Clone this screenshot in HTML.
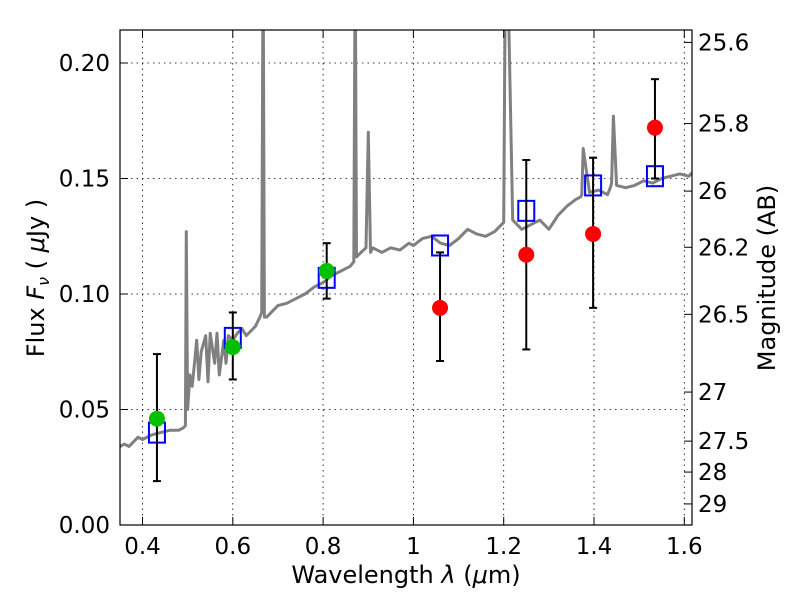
<!DOCTYPE html>
<html><head><meta charset="utf-8"><style>
body{margin:0;background:#fff;}
svg text{font-family:"DejaVu Sans","Liberation Sans",sans-serif;}
</style></head><body>
<svg id="chart" width="800" height="600" viewBox="0 0 800 600" xmlns="http://www.w3.org/2000/svg">
<defs><clipPath id="pc"><rect x="120" y="30" width="572" height="495"/></clipPath></defs>
<rect x="0" y="0" width="800" height="600" fill="#fff"/>
<g id="grid"></g>
<g id="spec" clip-path="url(#pc)"></g>
<g id="marks"></g>
<rect x="120" y="30" width="572" height="495" fill="none" stroke="#000" stroke-width="1.2"/>
<g id="axes"></g>
<text x="406" y="583" font-size="24" text-anchor="middle">Wavelength  <tspan font-style="italic">λ</tspan> (<tspan font-style="italic">μ</tspan>m)</text>
<text transform="translate(44,278) rotate(-90)" font-size="24" text-anchor="middle">Flux  <tspan font-style="italic">F</tspan><tspan font-style="italic" font-size="16" dy="5">ν</tspan><tspan dy="-5">  (  </tspan><tspan font-style="italic">μ</tspan>Jy )</text>
<text transform="translate(775,278) rotate(-90)" font-size="24" text-anchor="middle">Magnitude (AB)</text>
</svg>
<script>
const specWave=[0.35,0.36,0.37,0.38,0.39,0.40,0.42,0.44,0.46,0.48,0.49,0.495,0.497,0.50,0.505,0.51,0.52,0.525,0.53,0.54,0.545,0.55,0.56,0.565,0.57,0.58,0.585,0.59,0.60,0.61,0.62,0.63,0.64,0.65,0.66,0.664,0.667,0.670,0.675,0.69,0.70,0.72,0.74,0.76,0.78,0.80,0.82,0.84,0.86,0.868,0.871,0.874,0.884,0.895,0.90,0.905,0.91,0.93,0.95,0.97,0.99,1.0,1.02,1.04,1.06,1.08,1.10,1.12,1.14,1.16,1.18,1.195,1.200,1.204,1.208,1.22,1.24,1.26,1.28,1.30,1.32,1.34,1.36,1.37,1.373,1.376,1.39,1.41,1.43,1.436,1.439,1.443,1.45,1.47,1.49,1.51,1.53,1.55,1.57,1.59,1.61,1.625];
const specFlux=[0.034,0.035,0.034,0.036,0.038,0.037,0.039,0.040,0.041,0.041,0.042,0.043,0.127,0.050,0.065,0.060,0.080,0.063,0.075,0.082,0.062,0.083,0.070,0.083,0.065,0.080,0.070,0.082,0.080,0.083,0.085,0.082,0.084,0.086,0.090,0.092,0.25,0.09,0.090,0.093,0.095,0.096,0.098,0.100,0.103,0.105,0.108,0.110,0.112,0.114,0.25,0.116,0.118,0.120,0.17,0.118,0.120,0.118,0.120,0.119,0.122,0.121,0.124,0.125,0.122,0.121,0.124,0.128,0.126,0.125,0.127,0.130,0.131,0.25,0.25,0.132,0.128,0.130,0.132,0.128,0.134,0.138,0.141,0.142,0.143,0.163,0.144,0.145,0.143,0.146,0.148,0.177,0.147,0.146,0.147,0.149,0.148,0.150,0.151,0.152,0.151,0.154,0.155];
const bands=[0.432,0.600,0.808,1.059,1.250,1.398,1.535];
const modelFlux=[0.040,0.081,0.107,0.121,0.136,0.147,0.151];
const obsFlux=[0.046,0.077,0.110,0.094,0.117,0.126,0.172];
const obsErrLo=[0.019,0.063,0.098,0.071,0.076,0.094,0.150];
const obsErrHi=[0.074,0.092,0.122,0.118,0.158,0.159,0.193];
const obsDetected=[1,1,1,0,0,0,0];
const xTicks=[0.4,0.6,0.8,1.0,1.2,1.4,1.6];
const xTickLabels=["0.4","0.6","0.8","1","1.2","1.4","1.6"];
const yTicks=[0,0.05,0.10,0.15,0.20];
const yTickLabels=["0.00","0.05","0.10","0.15","0.20"];
const magTicks=[25.6,25.8,26,26.2,26.5,27,27.5,28,29];
const magTickLabels=["25.6","25.8","26","26.2","26.5","27","27.5","28","29"];

const NS="http://www.w3.org/2000/svg";
const X=v=>142.5+(v-0.4)*451.5;
const Y=v=>525-v*2310;
function mk(tag,attrs,parent){const e=document.createElementNS(NS,tag);for(const k in attrs)e.setAttribute(k,attrs[k]);document.getElementById(parent).appendChild(e);return e;}

xTicks.forEach((t,i)=>{
  const g=mk('line',{x1:X(t),x2:X(t),y1:30,y2:525,stroke:'#000','stroke-width':0.8,'stroke-dasharray':'1.5,4'},'grid');
  
  
  mk('line',{x1:X(t),x2:X(t),y1:525,y2:517,stroke:'#000'},'axes');
  mk('line',{x1:X(t),x2:X(t),y1:30,y2:38,stroke:'#000'},'axes');
  const tx=mk('text',{x:X(t),y:554,'font-size':23,'text-anchor':'middle'},'axes');
  tx.textContent=xTickLabels[i];
  
  
});
yTicks.forEach((t,i)=>{
  if(t>0){const g=mk('line',{x1:120,x2:692,y1:Y(t),y2:Y(t),stroke:'#000','stroke-width':0.8,'stroke-dasharray':'1.5,4'},'grid');
  
  }
  mk('line',{x1:120,x2:128,y1:Y(t),y2:Y(t),stroke:'#000'},'axes');
  const tx=mk('text',{x:110,y:Y(t)+8,'font-size':23,'text-anchor':'end'},'axes');
  tx.textContent=yTickLabels[i];
  
  
});
magTicks.forEach((m,i)=>{
  const f=Math.pow(10,(23.9-m)/2.5);
  mk('line',{x1:684,x2:692,y1:Y(f),y2:Y(f),stroke:'#000'},'axes');
  const tx=mk('text',{x:698,y:Y(f)+8,'font-size':23},'axes');
  tx.textContent=magTickLabels[i];
  
  
});

const pts=specWave.map((w,i)=>X(w).toFixed(1)+','+Y(specFlux[i]).toFixed(1)).join(' ');
const sp=mk('polyline',{points:pts,fill:'none',stroke:'#808080','stroke-width':3,'stroke-linejoin':'round'},'spec');



bands.forEach((b,i)=>{
  const r=mk('rect',{x:X(b)-8,y:Y(modelFlux[i])-10,width:16,height:20,fill:'none',stroke:'#0000ff','stroke-width':2},'marks');
  
  
});
bands.forEach((b,i)=>{
  const x=X(b);
  const e=mk('line',{x1:x,x2:x,y1:Y(obsErrLo[i]),y2:Y(obsErrHi[i]),stroke:'#000','stroke-width':2},'marks');
  
  
  mk('line',{x1:x-4,x2:x+4,y1:Y(obsErrLo[i]),y2:Y(obsErrLo[i]),stroke:'#000','stroke-width':2},'marks');
  mk('line',{x1:x-4,x2:x+4,y1:Y(obsErrHi[i]),y2:Y(obsErrHi[i]),stroke:'#000','stroke-width':2},'marks');
  const c=mk('circle',{cx:x,cy:Y(obsFlux[i]),r:8,fill:obsDetected[i]?'#00c000':'#ff0000'},'marks');
  
  
});
</script>
</body></html>
